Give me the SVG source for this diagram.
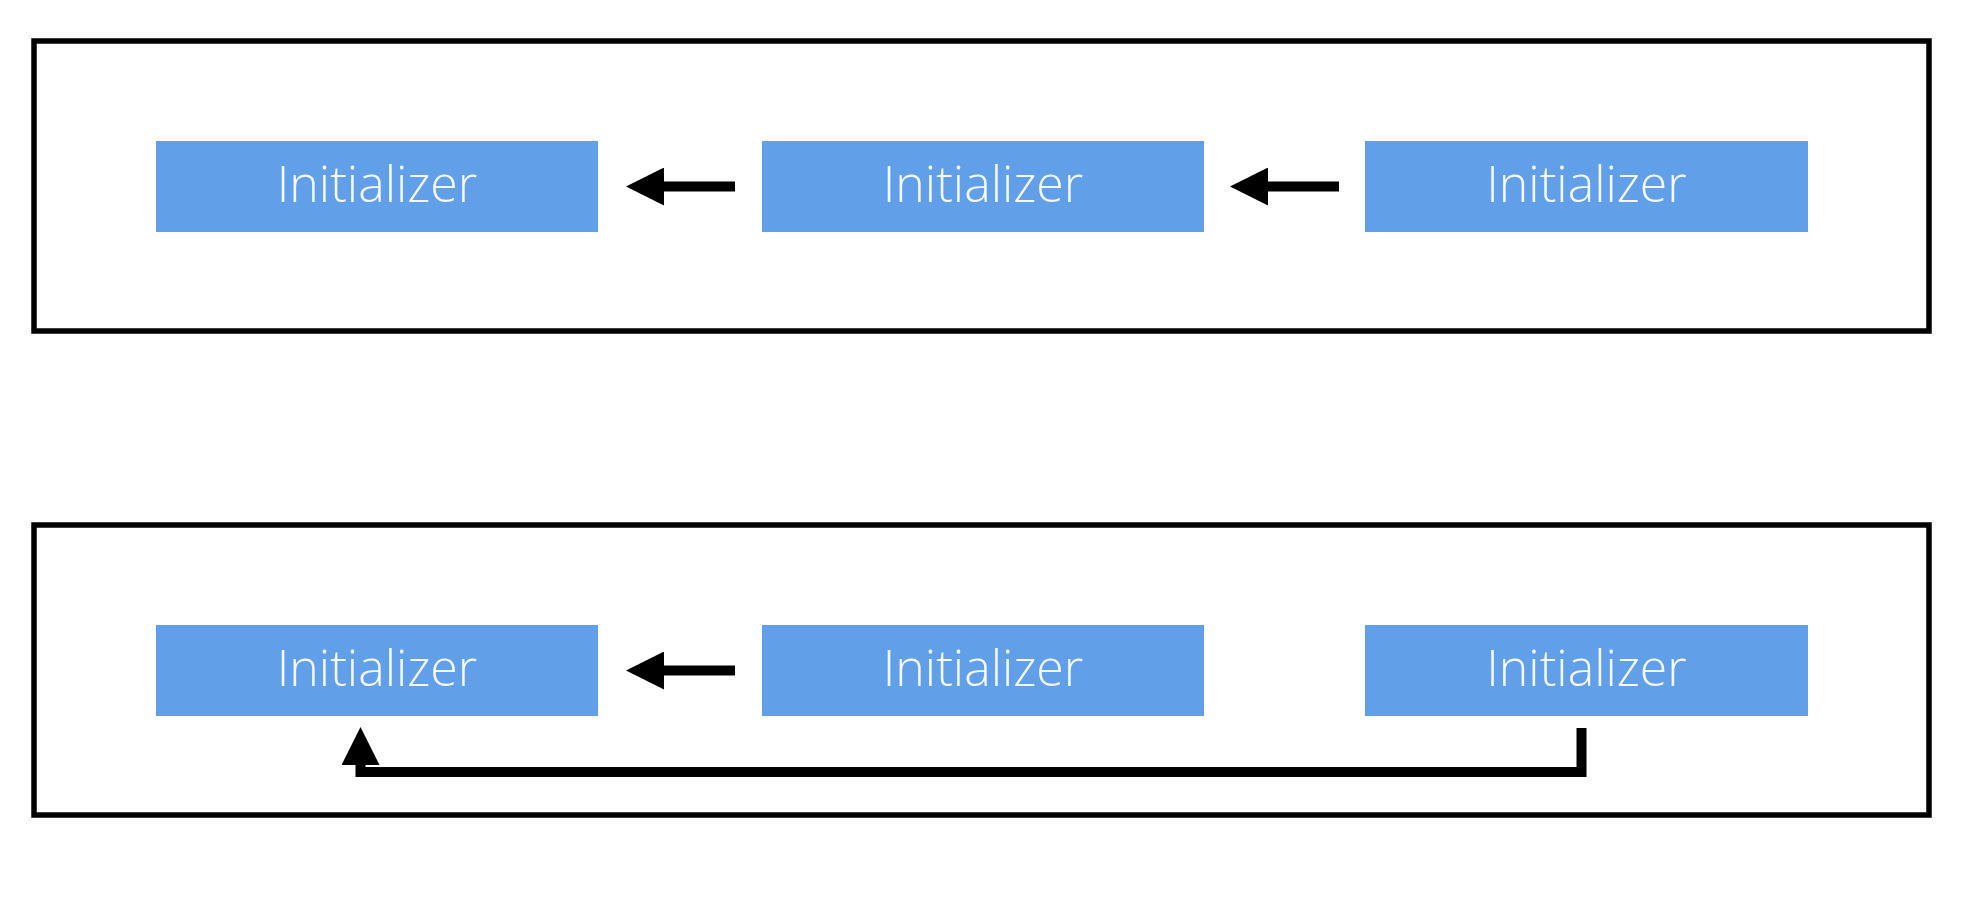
<svg xmlns="http://www.w3.org/2000/svg" width="1964" height="916" viewBox="0 0 1964 916">
  <style>
    .frame { fill: none; stroke: #000; stroke-width: 5.5; }
    .box { fill: #629FE9; }
    .label { fill: #F4F8FF; font-family: "Open Sans", "Noto Sans", "Liberation Sans", sans-serif; font-weight: 300; font-size: 50px; text-anchor: middle; }
    .conn { fill: none; stroke: #000; stroke-width: 10; stroke-linejoin: miter; stroke-linecap: butt; marker-end: url(#head); }
  </style>
  <defs>
    <marker id="head" viewBox="0 0 38 38" markerUnits="userSpaceOnUse" markerWidth="38" markerHeight="38" refX="1" refY="19" orient="auto">
      <path d="M0,0 L38,19 L0,38 z" fill="#000"/>
    </marker>
  </defs>
  <rect width="1964" height="916" fill="#fff"/>

  <g id="frame-top"><rect class="frame" x="34" y="41" width="1895" height="290"/></g>
  <g id="frame-bottom"><rect class="frame" x="34" y="525" width="1895" height="290"/></g>

  <g id="top-init-1"><rect class="box" x="156" y="141" width="442" height="91"/><text class="label" x="377" y="202">Initializer</text></g>
  <g id="top-init-2"><rect class="box" x="762" y="141" width="442" height="91"/><text class="label" x="983" y="202">Initializer</text></g>
  <g id="top-init-3"><rect class="box" x="1365" y="141" width="443" height="91"/><text class="label" x="1586.5" y="202">Initializer</text></g>

  <g id="bottom-init-1"><rect class="box" x="156" y="625" width="442" height="91"/><text class="label" x="377" y="686">Initializer</text></g>
  <g id="bottom-init-2"><rect class="box" x="762" y="625" width="442" height="91"/><text class="label" x="983" y="686">Initializer</text></g>
  <g id="bottom-init-3"><rect class="box" x="1365" y="625" width="443" height="91"/><text class="label" x="1586.5" y="686">Initializer</text></g>

  <g id="connectors">
    <path class="conn" d="M735,186.5 H663"/>
    <path class="conn" d="M1339,186.5 H1267"/>
    <path class="conn" d="M735,670.5 H663"/>
    <path class="conn" d="M1581.5,728 V772 H360.5 V764"/>
  </g>
</svg>
